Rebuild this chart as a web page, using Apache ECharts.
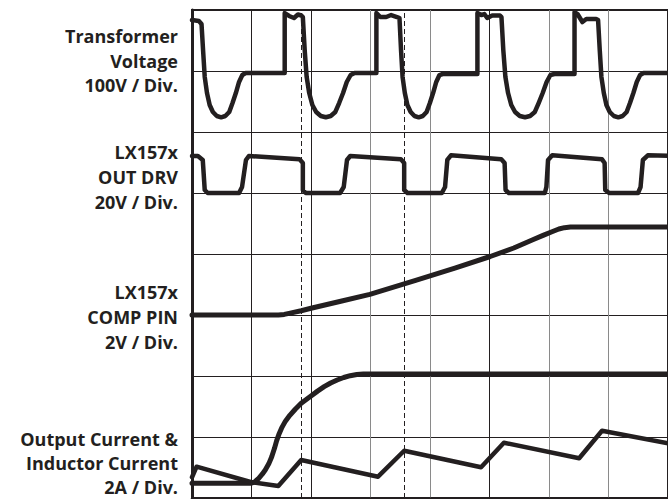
<!DOCTYPE html>
<html>
<head>
<meta charset="utf-8">
<script src="https://cdn.jsdelivr.net/npm/echarts@6/dist/echarts.min.js"></script>
<style>
html,body{margin:0;padding:0;background:#fff;}
#chart{width:668px;height:499px;}
</style>
</head>
<body>
<div id="chart"></div>
<script>
// Units: x = time in horizontal divisions, y = trace level in vertical divisions (0 = bottom)
const transformerVoltage = [
  [0,7.836],[0.115,7.820],[0.160,7.770],[0.186,7.344],[0.214,6.902],[0.252,6.639],[0.297,6.443],[0.351,6.328],
  [0.417,6.262],[0.490,6.241],[0.560,6.262],[0.626,6.328],[0.681,6.475],[0.737,6.639],[0.791,6.820],[0.846,6.934],
  [0.902,6.967],[1.558,6.967],[1.558,7.951],[1.632,7.902],[1.714,7.869],[1.780,7.926],[1.838,7.910],[1.863,7.885],
  [1.894,7.344],[1.927,6.902],[1.970,6.639],[2.023,6.443],[2.087,6.328],[2.165,6.262],[2.249,6.241],[2.331,6.262],
  [2.409,6.328],[2.473,6.475],[2.539,6.639],[2.601,6.820],[2.666,6.934],[2.732,6.967],[3.099,6.967],[3.099,7.951],
  [3.165,7.885],[3.264,7.885],[3.347,7.918],[3.445,7.885],[3.487,7.869],
  [3.513,7.344],[3.539,6.902],[3.577,6.639],[3.620,6.443],[3.675,6.328],[3.739,6.262],[3.810,6.241],[3.879,6.262],
  [3.943,6.328],[3.998,6.475],[4.052,6.639],[4.105,6.820],[4.159,6.934],[4.214,6.951],[4.797,6.951],[4.797,7.951],
  [4.863,7.918],[4.913,7.934],[4.962,7.869],[5.045,7.910],[5.176,7.910],[5.201,7.885],
  [5.232,7.344],[5.267,6.902],[5.312,6.639],[5.366,6.443],[5.430,6.328],[5.509,6.262],[5.597,6.241],[5.682,6.262],
  [5.762,6.328],[5.826,6.475],[5.894,6.639],[5.960,6.820],[6.024,6.934],[6.091,6.951],[6.429,6.951],[6.429,7.967],
  [6.479,7.934],[6.561,7.803],[6.627,7.852],[6.792,7.852],[6.825,7.836],
  [6.853,7.344],[6.881,6.902],[6.921,6.639],[6.965,6.443],[7.021,6.328],[7.090,6.262],[7.165,6.241],[7.237,6.262],
  [7.305,6.328],[7.361,6.475],[7.418,6.639],[7.475,6.820],[7.531,6.934],[7.588,6.967],[8.0,6.967]
];
const outDrv = [
  [0,5.607],[0.099,5.607],[0.181,5.541],[0.214,5.049],[0.264,5.0],[0.791,5.0],[0.841,5.098],[0.907,5.541],[0.956,5.607],
  [1.808,5.552],[1.863,5.492],[1.863,5.049],[1.912,5.0],[2.489,5.0],[2.550,5.098],[2.605,5.541],[2.659,5.607],
  [3.511,5.552],[3.566,5.492],[3.566,5.049],[3.622,5.0],[4.199,5.0],[4.253,5.098],[4.291,5.541],[4.352,5.618],
  [5.198,5.552],[5.254,5.492],[5.270,5.049],[5.325,5.0],[5.930,5.0],[5.956,5.098],[5.984,5.541],[6.055,5.618],
  [6.891,5.552],[6.935,5.492],[6.945,5.049],[7.011,5.0],[7.496,5.0],[7.539,5.098],[7.578,5.541],[7.661,5.618],[8.0,5.610]
];
const compPin = [
  [0,3.0],[1.451,3.0],[1.55,3.01],[1.65,3.03],[1.835,3.07],[2.0,3.11],[2.5,3.225],[2.989,3.339],[3.759,3.566],
  [4.418,3.770],[5.012,3.959],[5.408,4.098],[5.737,4.238],[5.9,4.305],[6.05,4.365],[6.166,4.410],[6.26,4.432],
  [6.36,4.441],[6.561,4.443],[8.0,4.443]
];
const outputCurrent = [
  [0,0.241],[0.984,0.241],[1.05,0.262],[1.121,0.323],[1.18,0.39],[1.231,0.459],[1.29,0.56],[1.340,0.677],
  [1.385,0.81],[1.423,0.94],[1.465,1.055],[1.505,1.145],[1.57,1.26],[1.644,1.355],[1.735,1.455],[1.835,1.552],
  [2.0,1.672],[2.11,1.752],[2.221,1.825],[2.33,1.885],[2.440,1.934],[2.55,1.975],[2.659,2.005],[2.77,2.025],
  [2.880,2.033],[8.0,2.033]
];
const inductorCurrent = [
  [0,0.340],[0.077,0.513],[0.984,0.262],[1.451,0.197],[1.835,0.623],[3.127,0.349],[3.566,0.775],
  [4.858,0.503],[5.242,0.907],[6.507,0.651],[6.891,1.103],[8.0,0.895]
];
const dashedMarkers = [1.835, 3.56];
const channelLabels = [
  ['Transformer', 'Voltage', '100V / Div.'],
  ['LX157x', 'OUT DRV', '20V / Div.'],
  ['LX157x', 'COMP PIN', '2V / Div.'],
  ['Output Current &', 'Inductor Current', '2A / Div.']
];

const INK = '#231f20';
const GRAY = '#8a8a8a';
const labelFirstBaselines = [41, 157, 297, 444];
const labelSpacing = [24.8, 25, 25.3, 24];
const graphics = [];
channelLabels.forEach((lines, g) => {
  lines.forEach((t, i) => {
    graphics.push({
      type: 'text',
      x: 178,
      y: labelFirstBaselines[g] + i * labelSpacing[g] - 5.2,
      style: {
        text: t,
        fill: INK,
        font: 'bold 18px "Open Sans", sans-serif',
        textAlign: 'right',
        textVerticalAlign: 'middle'
      }
    });
  });
});

function trace(data, width) {
  return {
    type: 'line',
    data: data,
    showSymbol: false,
    symbol: 'none',
    smooth: false,
    z: 5,
    lineStyle: { color: INK, width: width, join: 'round', cap: 'round' },
    silent: true
  };
}

const chart = echarts.init(document.getElementById('chart'), null, { renderer: 'svg' });
chart.setOption({
  animation: false,
  backgroundColor: '#ffffff',
  grid: { left: 192, top: 10, width: 485, height: 488, show: true, borderColor: INK, borderWidth: 2, backgroundColor: 'transparent' },
  xAxis: {
    type: 'value', min: 0, max: 8, interval: 1,
    axisLine: { show: true, onZero: false, lineStyle: { color: INK, width: 2.5 } },
    axisTick: { show: false }, axisLabel: { show: false },
    splitLine: { show: true, lineStyle: { width: 1, color: [INK, INK, INK, GRAY, GRAY, INK, GRAY, GRAY, GRAY] } }
  },
  yAxis: {
    type: 'value', min: 0, max: 8, interval: 1,
    axisLine: { show: true, onZero: false, lineStyle: { color: INK, width: 3 } },
    axisTick: { show: false }, axisLabel: { show: false },
    splitLine: { show: true, lineStyle: { width: 1, color: INK } }
  },
  graphic: graphics,
  series: [
    {
      type: 'line', data: [], z: 1, silent: true,
      markLine: {
        silent: true, symbol: 'none', label: { show: false },
        lineStyle: { color: INK, width: 1, type: [5, 3] },
        data: dashedMarkers.map(v => ({ xAxis: v }))
      }
    },
    trace(transformerVoltage, 4.5),
    trace(outDrv, 4.5),
    trace(compPin, 5),
    trace(outputCurrent, 5),
    trace(inductorCurrent, 4.5)
  ]
});
</script>
</body>
</html>
